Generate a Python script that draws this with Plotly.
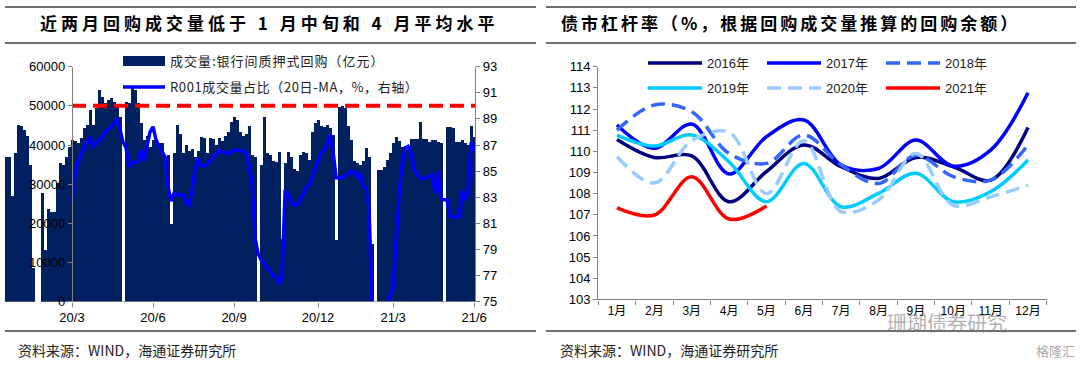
import plotly.graph_objects as go

W, H = 1080, 366

def px(x):
    return x / W

def py(y):
    return 1 - y / H

# ---------------- Left chart data ----------------
# daily-ish repo volume (亿元), one value per slot
repo_volume = [
    37000, 37000, 27000, 38000, 45200, 45000, 43800, 42500, 35000, 8600,
    0, 0, 27800, 13200, 23700, 23000, 22900, 30300, 35400, 35000,
    37000, 39600, 41300, 41000, 40500, 42000, 44400, 45200, 49000, 45200,
    49500, 54100, 52400, 50700, 51500, 52000, 51000, 50300, 47300, 0,
    51100, 50800, 55000, 54100, 50700, 45700, 41300, 42500, 39600, 41300,
    41000, 40500, 40500, 37000, 37500, 20000, 38000, 45200, 43000, 38000,
    40000, 38500, 39000, 37000, 38500, 42200, 41800, 38000, 41800, 41500,
    40000, 41800, 41000, 42500, 43500, 46000, 47300, 46500, 43500, 42500,
    43000, 45000, 37500, 37000, 0, 34900, 47300, 38000, 37500, 36000,
    35800, 38300, 16000, 35500, 38300, 37000, 34000, 33500, 37500, 38300,
    38000, 36200, 43500, 45600, 46400, 45000, 44700, 45200, 44500, 42600,
    15800, 49800, 50000, 49500, 45000, 41300, 36000, 35400, 35000, 36000,
    39200, 37100, 14900, 0, 33700, 33700, 34500, 36200, 38000, 40500,
    42200, 41000, 39500, 38800, 39500, 41700, 41700, 41500, 46000, 41700,
    41500, 40900, 41300, 41300, 40900, 40500, 0, 44700, 44700, 44500,
    40900, 40900, 41300, 40500, 40000, 44900, 42200,
]

# R001 share of volume (20d MA, %), starts at slot LINE_START
LINE_START = 22
r001_share = [
    82.6, 84.8, 85.7, 86.2, 86.8, 87.3, 87.5, 86.9, 87.1, 87.4,
    87.7, 88.0, 88.2, 88.4, 88.7, 89.0, 88.2, 87.2, 86.8, 85.3,
    85.6, 85.7, 85.7, 86.6, 85.8, 86.8, 88.0, 88.4, 87.4, 86.9,
    86.5, 86.1, 83.8, 82.7, 83.3, 83.2, 83.2, 83.2, 82.6, 82.4,
    83.5, 85.2, 86.0, 85.4, 85.4, 85.5, 85.8, 86.1, 86.3, 86.6,
    86.5, 86.4, 86.3, 86.5, 86.6, 86.6, 86.6, 86.5, 86.4, 85.4,
    84.2, 79.9, 78.7, 78.2, 77.9, 77.6, 77.2, 77.0, 76.9, 76.3,
    77.0, 83.4, 83.3, 82.6, 82.4, 82.4, 82.8, 83.3, 83.7, 84.0,
    84.5, 85.2, 85.9, 86.4, 86.6, 87.1, 87.8, 86.5, 84.5, 84.5,
    84.5, 84.6, 84.8, 85.0, 84.9, 84.5, 84.9, 83.8, 83.7, 82.0,
    75.0, 72.0, 72.0, 72.0, 72.0, 74.5, 75.5, 76.0, 79.5, 83.2,
    85.5, 86.8, 86.9, 86.4, 85.1, 84.8, 84.5, 84.4, 84.5, 84.6,
    84.7, 83.3, 85.0, 82.9, 82.8, 82.8, 81.5, 81.5, 81.5, 81.5,
    83.5, 82.8, 83.5, 87.2, 86.6,
]

tick_pos = [22, 49, 76, 104, 129, 156]
tick_text = ["20/3", "20/6", "20/9", "20/12", "21/3", "21/6"]
threshold = 50000
x_range_left = [-0.5, 156.3]

# ---------------- Right chart data ----------------
months = ["1月", "2月", "3月", "4月", "5月", "6月", "7月", "8月", "9月", "10月", "11月", "12月"]
lev_2016 = [110.56, 109.71, 109.78, 107.62, 109.04, 110.30, 109.27, 108.72, 109.71, 109.27, 108.64, 111.13]
lev_2017 = [111.24, 110.14, 111.29, 108.93, 110.69, 111.48, 109.35, 109.19, 110.53, 109.30, 110.06, 112.77]
lev_2018 = [111.00, 112.19, 111.87, 109.90, 109.43, 110.77, 109.35, 108.48, 109.82, 108.80, 108.64, 110.30]
lev_2019 = [110.77, 110.25, 110.77, 109.50, 107.62, 109.43, 107.38, 108.01, 108.96, 107.62, 108.09, 109.59]
lev_2020 = [109.75, 108.50, 110.50, 110.90, 108.00, 110.50, 107.15, 107.70, 109.90, 107.45, 107.85, 108.40]
lev_2021 = [107.33, 106.99, 108.80, 106.80, 107.41]

NAVY = "#002060"
FONT_NUM = "Liberation Sans, Arial, Noto Sans CJK SC"
FONT_CJK = "Noto Sans CJK SC, Liberation Sans"

fig = go.Figure()

slots = list(range(len(repo_volume)))
fig.add_trace(go.Bar(
    x=slots, y=repo_volume, marker=dict(color=NAVY, line=dict(width=0)),
    xaxis="x", yaxis="y", showlegend=False, hoverinfo="skip",
))
# legend entry for the bars (wide swatch)
fig.add_trace(go.Scatter(
    x=[None], y=[None], mode="lines", line=dict(color=NAVY, width=11),
    name='<span style="letter-spacing:1px">成交量:银行间质押式回购（亿元）</span>',
    xaxis="x", yaxis="y", legend="legend",
))
fig.add_trace(go.Scatter(
    x=[tick_pos[0], x_range_left[1]], y=[threshold, threshold], mode="lines",
    line=dict(color="#ff0000", width=4, dash="14px,7px"),
    xaxis="x", yaxis="y", showlegend=False, hoverinfo="skip",
))
line_x = list(range(LINE_START, LINE_START + len(r001_share)))
fig.add_trace(go.Scatter(
    x=line_x, y=r001_share, mode="lines", line=dict(color="#0000ff", width=3.5),
    name='<span style="letter-spacing:0.6px">R001成交量占比（20日-MA，%，右轴）</span>',
    xaxis="x", yaxis="y2", legend="legend2",
))

series = [
    ("2016年", lev_2016, "#000080", "solid", "legend3"),
    ("2017年", lev_2017, "#0000ff", "solid", "legend3"),
    ("2018年", lev_2018, "#3366ff", "14px,7px", "legend3"),
    ("2019年", lev_2019, "#00ccff", "solid", "legend4"),
    ("2020年", lev_2020, "#99ccff", "14px,7px", "legend4"),
    ("2021年", lev_2021, "#ff0000", "solid", "legend4"),
]
for name, vals, col, dash, lg in series:
    fig.add_trace(go.Scatter(
        x=months[:len(vals)], y=vals, mode="lines", name=name,
        line=dict(color=col, width=3.5, dash=dash, shape="spline", smoothing=1.0),
        xaxis="x2", yaxis="y3", legend=lg,
    ))

axis_common = dict(showgrid=False, zeroline=False, ticks="outside", ticklen=4,
                   tickcolor="#808080", linecolor="#808080", linewidth=1.3,
                   automargin=False,
                   tickfont=dict(family=FONT_NUM, size=13, color="#000"))

leg_common = dict(xanchor="left", yanchor="top", bgcolor="rgba(0,0,0,0)")

fig.update_layout(
    template="none",
    width=W, height=H, margin=dict(l=0, r=0, t=0, b=0, pad=0, autoexpand=False),
    paper_bgcolor="white", plot_bgcolor="rgba(0,0,0,0)",
    bargap=0,
    xaxis=dict(domain=[px(4.5), px(475)], range=x_range_left, tickvals=tick_pos,
               ticktext=tick_text, showline=False, anchor="y", **axis_common),
    yaxis=dict(domain=[py(301.7), py(66.7)], range=[0, 60000], dtick=10000,
               anchor="free", position=px(72), showline=True, tickformat="d",
               **axis_common),
    yaxis2=dict(domain=[py(301.7), py(66.7)], range=[75, 93], dtick=2, tick0=75,
                overlaying="y", side="right", anchor="x", showline=True, **axis_common),
    xaxis2=dict(domain=[px(598.3), px(1046.7)], anchor="y3", type="category",
                range=[-0.5, 11.5], tickson="boundaries", showline=True,
                **{**axis_common, "tickfont": dict(family=FONT_NUM, size=12, color="#000")}),
    yaxis3=dict(domain=[py(299.4), py(66.7)], range=[103, 114], dtick=1,
                anchor="x2", showline=True, **axis_common),
    legend=dict(x=px(118), y=py(46), itemwidth=42,
                font=dict(family=FONT_CJK, size=13, color="#222"), **leg_common),
    legend2=dict(x=px(118), y=py(72), itemwidth=42,
                 font=dict(family=FONT_CJK, size=13, color="#222"), **leg_common),
    legend3=dict(x=px(643), y=py(48), itemwidth=54, orientation="h", entrywidth=50,
                 font=dict(family=FONT_NUM, size=13, color="#222"), **leg_common),
    legend4=dict(x=px(643), y=py(73), itemwidth=54, orientation="h", entrywidth=50,
                 font=dict(family=FONT_NUM, size=13, color="#222"), **leg_common),
)

rule = dict(type="line", xref="paper", yref="paper", line=dict(color="#404040", width=1.5))
shapes = []
for (x0, x1) in [(5, 536), (546, 1076)]:
    for yy in [7, 43, 331]:
        shapes.append({**rule, "x0": px(x0), "x1": px(x1), "y0": py(yy), "y1": py(yy)})
# left x axis line, starting at the left value axis
shapes.append(dict(type="line", xref="x", yref="y", x0=tick_pos[0], x1=x_range_left[1],
                   y0=0, y1=0, line=dict(color="#808080", width=1.3)))
fig.update_layout(shapes=shapes)

title_font = dict(family=FONT_CJK, size=17, color="#000")
ann = [
    dict(text='<b><span style="letter-spacing:4px">近两月回购成交量低于 1 月中旬和 4 月平均水平</span></b>',
         x=px(269), y=py(23), xanchor="center", yanchor="middle", font=title_font),
    dict(text='<b><span style="letter-spacing:3px">债市杠杆率（%，根据回购成交量推算的回购余额）</span></b>',
         x=px(559), y=py(23), xanchor="left", yanchor="middle", font=title_font),
    dict(text="资料来源：WIND，海通证券研究所", x=px(16), y=py(350), xanchor="left",
         yanchor="middle", font=dict(family=FONT_CJK, size=14, color="#222")),
    dict(text="资料来源：WIND，海通证券研究所", x=px(558), y=py(350), xanchor="left",
         yanchor="middle", font=dict(family=FONT_CJK, size=14, color="#222")),
    dict(text="珊瑚债券研究", x=px(885), y=py(322), xanchor="left", yanchor="middle",
         font=dict(family=FONT_CJK, size=20, color="rgba(110,110,110,0.55)")),
    dict(text="格隆汇", x=px(1077), y=py(350), xanchor="right", yanchor="middle",
         font=dict(family=FONT_CJK, size=13, color="rgba(110,110,110,0.6)")),
]
for a in ann:
    a.update(xref="paper", yref="paper", showarrow=False)
fig.update_layout(annotations=ann)

fig.write_html("out.html", config={"displayModeBar": False},
               post_script="document.body.style.margin='0px';")
